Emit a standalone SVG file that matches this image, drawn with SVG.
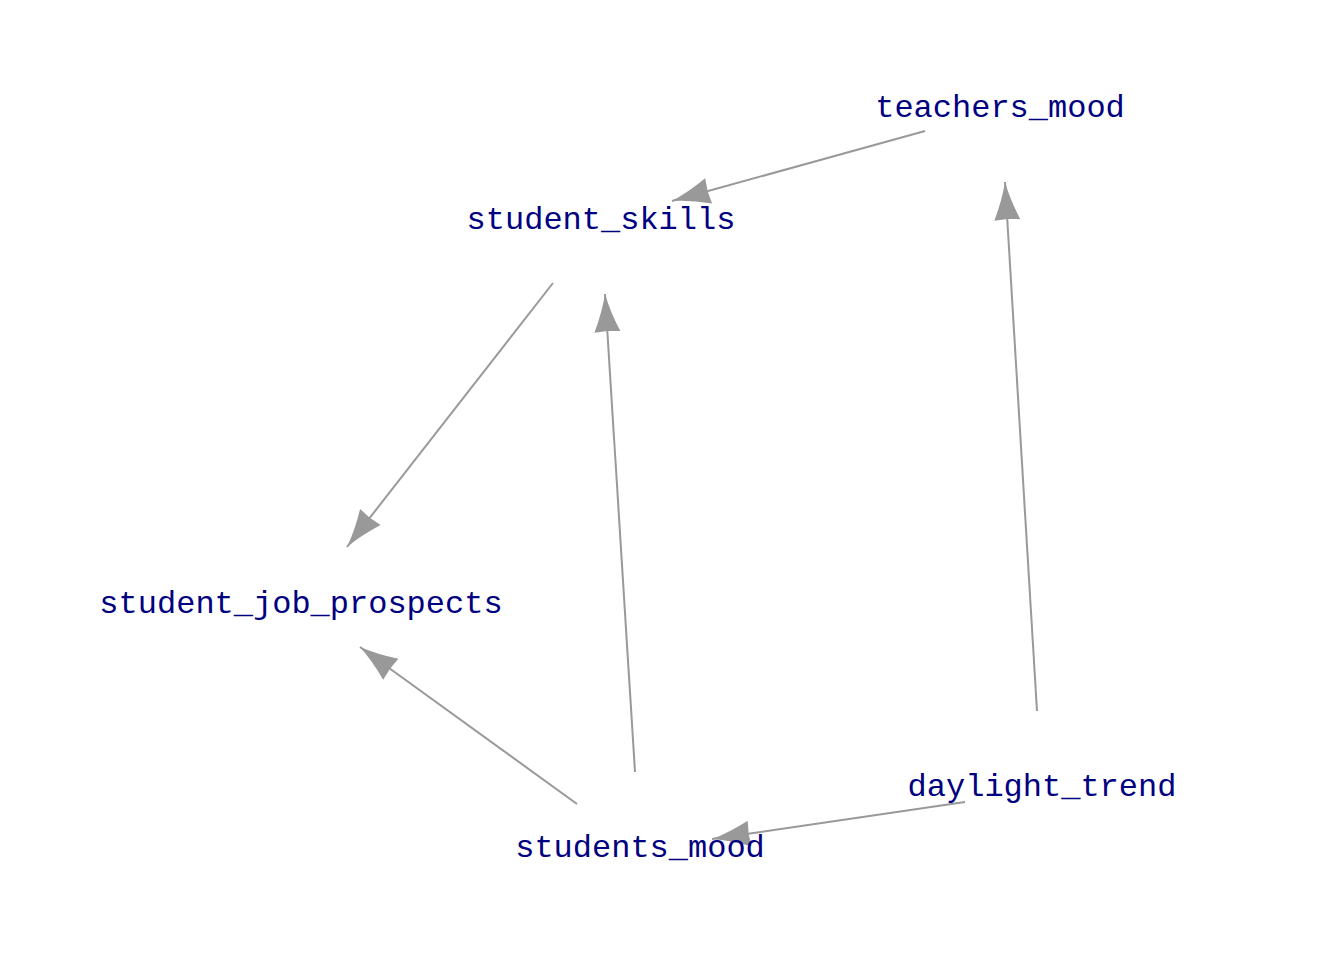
<svg xmlns="http://www.w3.org/2000/svg" width="1344" height="960" viewBox="0 0 1344 960">
<style>
.lbl{font-family:"Liberation Mono","Courier New",monospace;font-size:32px;fill:#000080;text-anchor:middle}
.edge{stroke:#999999;stroke-width:2;fill:none}
</style>
<defs>
<marker id="ah" markerUnits="userSpaceOnUse" markerWidth="44" markerHeight="30" viewBox="-40 -15 44 30" refX="0" refY="0" orient="auto" overflow="visible">
<path d="M0,0 Q-18,4 -38,13 L-37,0 L-38,-13 Q-18,-4 0,0 Z" fill="#999999"/>
</marker>
</defs>
<rect width="1344" height="960" fill="#ffffff"/>
<g id="connectors">
<line class="edge" x1="925" y1="131" x2="672" y2="201" marker-end="url(#ah)"/>
<line class="edge" x1="553" y1="283" x2="347" y2="547" marker-end="url(#ah)"/>
<line class="edge" x1="635" y1="772" x2="605" y2="294" marker-end="url(#ah)"/>
<line class="edge" x1="577" y1="804" x2="360" y2="647" marker-end="url(#ah)"/>
<line class="edge" x1="1037" y1="711" x2="1005" y2="182" marker-end="url(#ah)"/>
<line class="edge" x1="965" y1="802" x2="712" y2="839" marker-end="url(#ah)"/>
</g>
<g id="teachers_mood"><text class="lbl" x="1000" y="117">teachers_mood</text></g>
<g id="student_skills"><text class="lbl" x="601" y="229">student_skills</text></g>
<g id="student_job_prospects"><text class="lbl" x="301" y="613">student_job_prospects</text></g>
<g id="students_mood"><text class="lbl" x="640" y="857">students_mood</text></g>
<g id="daylight_trend"><text class="lbl" x="1042" y="796">daylight_trend</text></g>
</svg>
